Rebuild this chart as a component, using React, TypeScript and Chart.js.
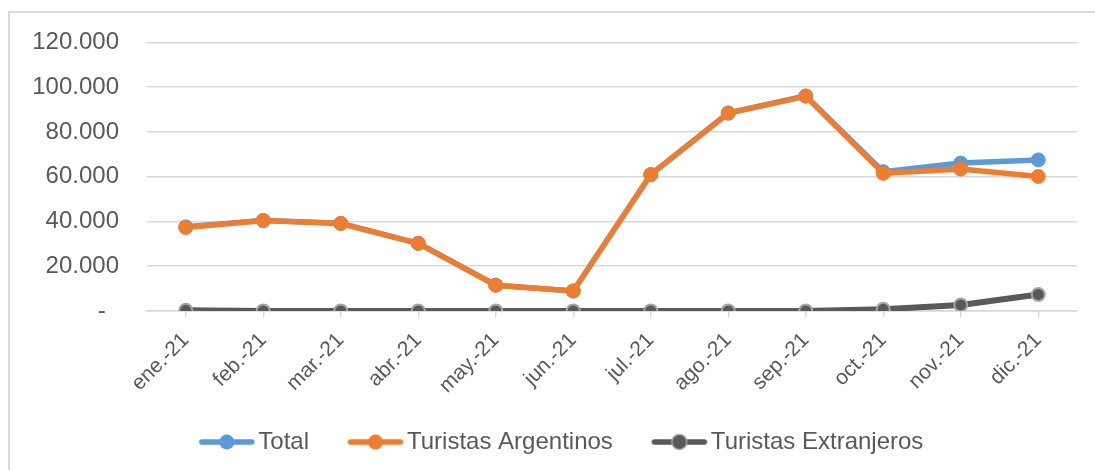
import React, { useEffect, useRef } from "react";
import { Chart, registerables } from "chart.js";

Chart.register(...registerables);

const categories = ["ene.-21", "feb.-21", "mar.-21", "abr.-21", "may.-21", "jun.-21", "jul.-21", "ago.-21", "sep.-21", "oct.-21", "nov.-21", "dic.-21"];
const totalValues = [37600, 40450, 39150, 30250, 11550, 8950, 60950, 88450, 96050, 62250, 66100, 67500];
const argentinosValues = [37300, 40400, 39100, 30200, 11500, 8900, 60900, 88400, 96000, 61500, 63400, 60100];
const extranjerosValues = [300, 50, 50, 50, 50, 50, 50, 50, 50, 750, 2700, 7400];
const seriesNames = ["Total", "Turistas Argentinos", "Turistas Extranjeros"];
const yTicks = [0, 20000, 40000, 60000, 80000, 100000, 120000];

const BLUE = "#5B9BD5";
const ORANGE = "#ED7D31";
const GREY = "#595959";
const GREY_EDGE = "#A5A5A5";
const TEXT = "#595959";
const GRID = "#D9D9D9";
const FONT = "'Liberation Sans', Arial, sans-serif";

function fmt(v: number): string {
  if (v === 0) return "-  ";
  const s = Math.round(v).toString();
  return s.replace(/\B(?=(\d{3})+(?!\d))/g, ".");
}

function legendIcon(color: string, edge: string): HTMLCanvasElement {
  const c = document.createElement("canvas");
  c.width = 58;
  c.height = 18;
  const ctx = c.getContext("2d")!;
  ctx.strokeStyle = color;
  ctx.lineWidth = 5.5;
  ctx.lineCap = "round";
  ctx.beginPath();
  ctx.moveTo(4, 9);
  ctx.lineTo(54, 9);
  ctx.stroke();
  ctx.beginPath();
  ctx.arc(29, 9, 7.5, 0, Math.PI * 2);
  ctx.fillStyle = color;
  ctx.fill();
  if (edge !== color) {
    ctx.lineWidth = 1.5;
    ctx.strokeStyle = edge;
    ctx.stroke();
  }
  return c;
}

export default function App() {
  const ref = useRef<HTMLCanvasElement | null>(null);

  useEffect(() => {
    if (!ref.current) return;
    const icons = [legendIcon(BLUE, BLUE), legendIcon(ORANGE, ORANGE), legendIcon(GREY, GREY_EDGE)];
    const trailing = ["      ", "      ", "              "];
    const chart = new Chart(ref.current, {
      type: "line",
      data: {
        labels: categories,
        datasets: [
          {
            label: seriesNames[0],
            data: totalValues,
            borderColor: BLUE,
            backgroundColor: BLUE,
            pointBackgroundColor: BLUE,
            pointBorderColor: BLUE,
            borderWidth: 5.5,
            pointRadius: 7,
            pointBorderWidth: 1,
            borderJoinStyle: "round",
            borderCapStyle: "round",
            order: 3,
          },
          {
            label: seriesNames[1],
            data: argentinosValues,
            borderColor: ORANGE,
            backgroundColor: ORANGE,
            pointBackgroundColor: ORANGE,
            pointBorderColor: ORANGE,
            borderWidth: 5.5,
            pointRadius: 7,
            pointBorderWidth: 1,
            borderJoinStyle: "round",
            borderCapStyle: "round",
            order: 2,
          },
          {
            label: seriesNames[2],
            data: extranjerosValues,
            borderColor: GREY,
            backgroundColor: GREY,
            pointBackgroundColor: GREY,
            pointBorderColor: GREY_EDGE,
            borderWidth: 6,
            pointRadius: 6.5,
            pointBorderWidth: 2,
            borderJoinStyle: "round",
            borderCapStyle: "round",
            order: 1,
          },
        ],
      },
      options: {
        animation: false,
        responsive: false,
        maintainAspectRatio: false,
        layout: { padding: { left: 0, top: 41, right: 18, bottom: 6 } },
        plugins: {
          tooltip: { enabled: false },
          legend: {
            position: "bottom",
            fullSize: false,
            labels: {
              color: TEXT,
              font: { family: FONT, size: 24 },
              usePointStyle: true,
              pointStyleWidth: 39,
              boxHeight: 24,
              padding: 7,
              generateLabels: (ch: any) =>
                ch.data.datasets.map((ds: any, i: number) => ({
                  text: ds.label + trailing[i],
                  fillStyle: ds.borderColor,
                  strokeStyle: ds.borderColor,
                  lineWidth: 0,
                  pointStyle: icons[i],
                  hidden: false,
                  datasetIndex: i,
                  fontColor: TEXT,
                })),
            },
          },
        },
        scales: {
          x: {
            offset: true,
            grid: {
              display: true,
              drawOnChartArea: false,
              drawTicks: true,
              tickLength: 6,
              color: GRID,
              lineWidth: 1.5,
            },
            border: { display: true, color: GRID, width: 1.5 },
            ticks: {
              color: TEXT,
              font: { family: FONT, size: 21 },
              minRotation: 45,
              maxRotation: 45,
              padding: 11,
              autoSkip: false,
            },
            afterFit: (s: any) => {
              s.height = 112;
            },
          },
          y: {
            min: 0,
            max: 120000,
            afterBuildTicks: (s: any) => {
              s.ticks = yTicks.map((v) => ({ value: v }));
            },
            grid: { color: GRID, lineWidth: 1.5, drawTicks: false },
            border: { display: false },
            ticks: {
              color: TEXT,
              font: { family: FONT, size: 24 },
              padding: 28,
              callback: (v: any) => fmt(Number(v)),
            },
            afterFit: (s: any) => {
              s.width = 147;
            },
          },
        },
      },
    });
    return () => chart.destroy();
  }, []);

  return (
    <div style={{ position: "fixed", left: 0, top: 0, width: 1095, height: 470, overflow: "hidden", background: "#fff" }}>
      <div
        style={{
          position: "absolute",
          left: 8,
          top: 11,
          width: 1200,
          height: 600,
          borderLeft: "2px solid #D9D9D9",
          borderTop: "2px solid #D9D9D9",
        }}
      />
      <canvas ref={ref} width={1095} height={470} style={{ position: "absolute", left: 0, top: 0, width: 1095, height: 470 }} />
    </div>
  );
}
